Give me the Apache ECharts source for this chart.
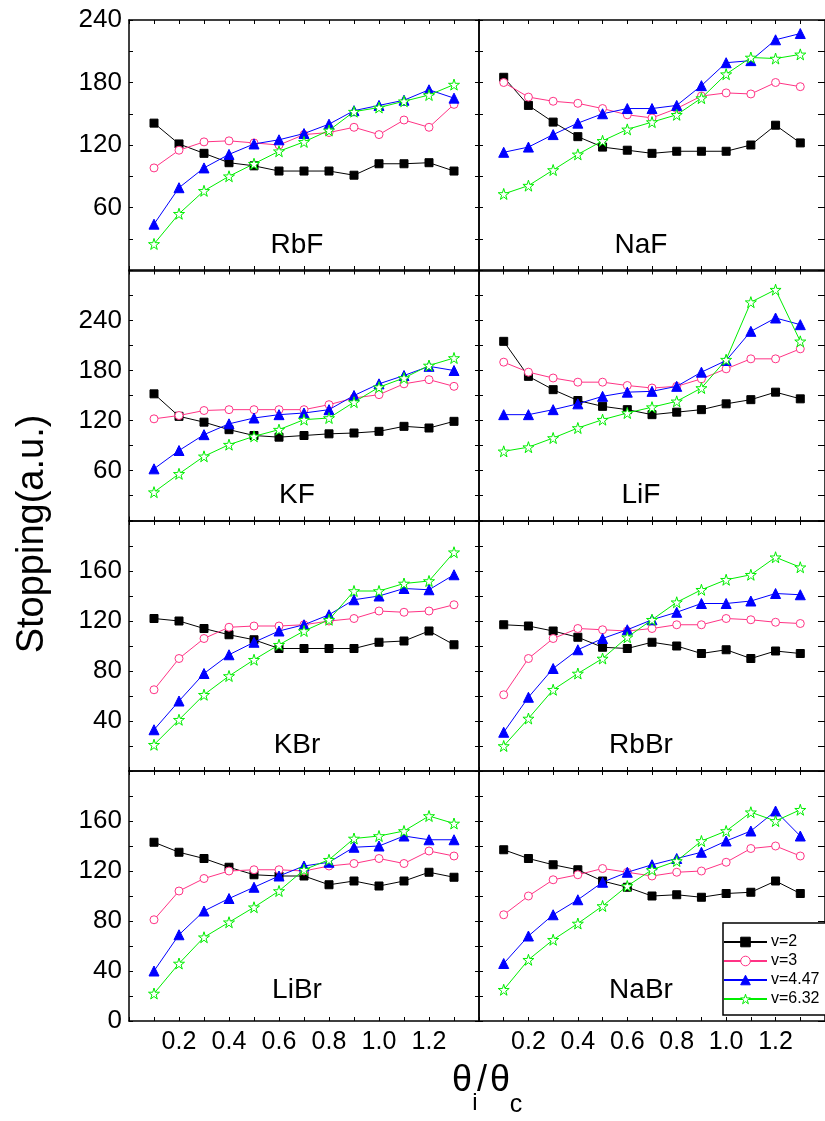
<!DOCTYPE html>
<html>
<head>
<meta charset="utf-8">
<script src="https://cdn.jsdelivr.net/npm/echarts@6/dist/echarts.min.js"></script>
<style>
  html, body { margin: 0; padding: 0; background: #fff; }
  #chart { width: 825px; height: 1121px; }
</style>
</head>
<body>
<div id="chart"></div>
<script>
// theta_i / theta_c
const thetaRatio = [0.1, 0.2, 0.3, 0.4, 0.5, 0.6, 0.7, 0.8, 0.9, 1.0, 1.1, 1.2, 1.3];

const rbfV2   = [141, 121, 112, 103, 100, 95, 95, 95, 91, 102, 102, 103, 95];
const rbfV3   = [98, 115, 123, 124, 122, 120, 130, 132, 137, 130, 144, 137, 159];
const rbfV447 = [44, 79, 98, 111, 121, 125, 131, 140, 153, 158, 163, 173, 165];
const rbfV632 = [25, 54, 76, 90, 102, 114, 123, 134, 152, 156, 162, 168, 178];

const nafV2   = [185, 158, 142, 128, 118, 115, 112, 114, 114, 114, 120, 139, 122];
const nafV3   = [180, 166, 162, 160, 155, 149, 146, 155, 167, 170, 169, 180, 176];
const nafV447 = [113, 118, 130, 141, 150, 155, 155, 158, 177, 199, 201, 221, 227];
const nafV632 = [73, 81, 96, 111, 124, 135, 142, 149, 165, 188, 204, 203, 207];

const kfV2   = [152, 125, 118, 109, 102, 100, 102, 104, 105, 107, 113, 111, 119];
const kfV3   = [122, 126, 132, 133, 133, 133, 133, 139, 147, 151, 164, 169, 161];
const kfV447 = [62, 84, 103, 116, 123, 127, 129, 133, 150, 164, 174, 185, 180];
const kfV632 = [34, 56, 77, 91, 101, 109, 121, 123, 142, 160, 171, 186, 195];

const lifV2   = [215, 173, 157, 144, 137, 133, 127, 130, 133, 140, 145, 154, 146];
const lifV3   = [190, 178, 171, 166, 166, 162, 159, 161, 170, 182, 194, 194, 206];
const lifV447 = [127, 127, 133, 140, 149, 154, 155, 161, 178, 192, 227, 243, 235];
const lifV632 = [83, 88, 99, 111, 121, 129, 136, 143, 159, 193, 262, 277, 215];

const kbrV2   = [122, 120, 114, 109, 105, 98, 98, 98, 98, 103, 104, 112, 101];
const kbrV3   = [65, 90, 106, 115, 116, 116, 117, 120, 122, 128, 127, 128, 133];
const kbrV447 = [33, 56, 78, 93, 103, 112, 117, 125, 137, 140, 146, 145, 157];
const kbrV632 = [21, 41, 61, 76, 89, 101, 112, 121, 144, 144, 150, 152, 175];

const rbbrV2   = [117, 116, 112, 107, 99, 98, 103, 100, 94, 97, 90, 96, 94];
const rbbrV3   = [61, 90, 106, 114, 113, 112, 114, 117, 117, 122, 121, 119, 118];
const rbbrV447 = [31, 59, 82, 97, 106, 113, 121, 127, 134, 134, 136, 142, 141];
const rbbrV632 = [20, 42, 65, 78, 90, 107, 121, 135, 145, 153, 157, 171, 163];

const libroV2   = [143, 135, 130, 123, 117, 116, 116, 109, 112, 108, 112, 119, 115];
const libroV3   = [81, 104, 114, 120, 121, 121, 120, 124, 126, 130, 126, 136, 132];
const libroV447 = [40, 69, 88, 98, 107, 116, 124, 127, 139, 140, 148, 145, 145];
const libroV632 = [22, 46, 67, 79, 91, 104, 121, 129, 146, 148, 152, 164, 158];

const nabrV2   = [137, 130, 125, 121, 112, 107, 100, 101, 99, 102, 103, 112, 102];
const nabrV3   = [85, 100, 113, 117, 122, 119, 116, 119, 120, 127, 138, 140, 132];
const nabrV447 = [46, 68, 85, 97, 111, 119, 125, 130, 135, 144, 152, 168, 148];
const nabrV632 = [25, 49, 65, 78, 92, 108, 121, 128, 144, 152, 167, 160, 169];

const seriesNames = ["v=2", "v=3", "v=4.47", "v=6.32"];
const panelNames = ["RbF", "NaF", "KF", "LiF", "KBr", "RbBr", "LiBr", "NaBr"];
const panelData = [
  [rbfV2, rbfV3, rbfV447, rbfV632],
  [nafV2, nafV3, nafV447, nafV632],
  [kfV2, kfV3, kfV447, kfV632],
  [lifV2, lifV3, lifV447, lifV632],
  [kbrV2, kbrV3, kbrV447, kbrV632],
  [rbbrV2, rbbrV3, rbbrV447, rbbrV632],
  [libroV2, libroV3, libroV447, libroV632],
  [nabrV2, nabrV3, nabrV447, nabrV632]
];

// y axis range per row
const rowYMax = [240, 300, 200, 200];
const rowYStep = [60, 60, 40, 40];

const rowTop = [20, 270.5, 521, 771];
const colLeft = [129, 479];
const star = "path://M50,0 L61,35 L98,35 L68,57 L79,91 L50,70 L21,91 L32,57 L2,35 L39,35 Z";
const font = "Liberation Sans";

const styles = [
  { color: "#000000", symbol: "rect", size: 8, fill: "#000000" },
  { color: "#ff3385", symbol: "circle", size: 8, fill: "#ffffff" },
  { color: "#0000ff", symbol: "triangle", size: 10, fill: "#0000ff" },
  { color: "#00ee00", symbol: star, size: 11, fill: "#ffffff" }
];

const grid = [], xAxis = [], yAxis = [], series = [], graphic = [];
const axisLine = { onZero: false, lineStyle: { color: "#000", width: 1.5 } };

panelData.forEach(function (sets, p) {
  const row = Math.floor(p / 2), col = p % 2;
  grid.push({ left: colLeft[col], top: rowTop[row], width: 350, height: 250 });

  ["bottom", "top"].forEach(function (pos) {
    xAxis.push({
      gridIndex: p, type: "value", position: pos,
      min: 0, max: 1.4, interval: 0.2,
      axisLine: axisLine,
      axisTick: { inside: true, length: 4, lineStyle: { color: "#000" } },
      minorTick: { show: true, splitNumber: 2, length: 4, lineStyle: { color: "#000" } },
      splitLine: { show: false },
      axisLabel: {
        show: pos === "bottom" && row === 3,
        showMinLabel: false, showMaxLabel: false,
        formatter: function (v) { return v.toFixed(1); },
        fontFamily: font, fontSize: 25, color: "#000", margin: 9
      }
    });
  });

  ["left", "right"].forEach(function (pos) {
    const tickLen = (pos === "right" && col === 1) ? 7 : 4;
    yAxis.push({
      gridIndex: p, type: "value", position: pos,
      min: 0, max: rowYMax[row], interval: rowYStep[row],
      axisLine: axisLine,
      axisTick: { inside: true, length: tickLen, lineStyle: { color: "#000" } },
      minorTick: { show: true, splitNumber: 2, length: tickLen, lineStyle: { color: "#000" } },
      splitLine: { show: false },
      axisLabel: {
        show: pos === "left" && col === 0,
        showMinLabel: row === 3, showMaxLabel: row === 0,
        fontFamily: font, fontSize: 26, color: "#000", margin: 7
      }
    });
  });

  sets.forEach(function (vals, s) {
    const st = styles[s];
    series.push({
      name: seriesNames[s], type: "line",
      xAxisIndex: 2 * p, yAxisIndex: 2 * p,
      data: thetaRatio.map(function (x, i) { return [x, vals[i]]; }),
      symbol: st.symbol, symbolSize: st.size, showAllSymbol: true,
      lineStyle: { color: st.color, width: 1 },
      itemStyle: { color: st.fill, borderColor: st.color, borderWidth: 1 },
      z: 2 + s
    });
  });

  graphic.push({
    type: "text",
    x: col === 0 ? 297 : 641,
    y: [245, 495, 745, 990][row],
    style: {
      text: panelNames[p], fontFamily: font, fontSize: 28, fill: "#000",
      align: "center", verticalAlign: "middle"
    }
  });
});

// axis titles
graphic.push({
  type: "text", x: 33, y: 534, rotation: Math.PI / 2,
  style: { text: "Stopping(a.u.)", fontFamily: font, fontSize: 38, fill: "#000", align: "center", verticalAlign: "middle" }
});
[["θ", 462, 1081, 36], ["i", 475, 1103, 24], ["/", 482, 1081, 36], ["θ", 500, 1081, 36], ["c", 516, 1105, 25]].forEach(function (t) {
  graphic.push({
    type: "text", x: t[1], y: t[2],
    style: { text: t[0], fontFamily: font, fontSize: t[3], fill: "#000", align: "center", verticalAlign: "middle" }
  });
});

const chart = echarts.init(document.getElementById("chart"));
chart.setOption({
  animation: false,
  backgroundColor: "#fff",
  grid: grid,
  xAxis: xAxis,
  yAxis: yAxis,
  series: series,
  graphic: graphic,
  legend: {
    data: seriesNames.map(function (n, s) {
      return {
        name: n,
        itemStyle: { color: styles[s].fill, borderColor: styles[s].color, borderWidth: 1 }
      };
    }),
    orient: "vertical",
    left: 723, top: 923,
    padding: [11, 12, 8, 0],
    itemWidth: 43, itemHeight: 12, itemGap: 3,
    borderColor: "#000", borderWidth: 1.5,
    backgroundColor: "#fff",
    textStyle: { fontFamily: font, fontSize: 16, color: "#000", padding: [0, 0, 0, -1] }
  }
});
</script>
</body>
</html>
